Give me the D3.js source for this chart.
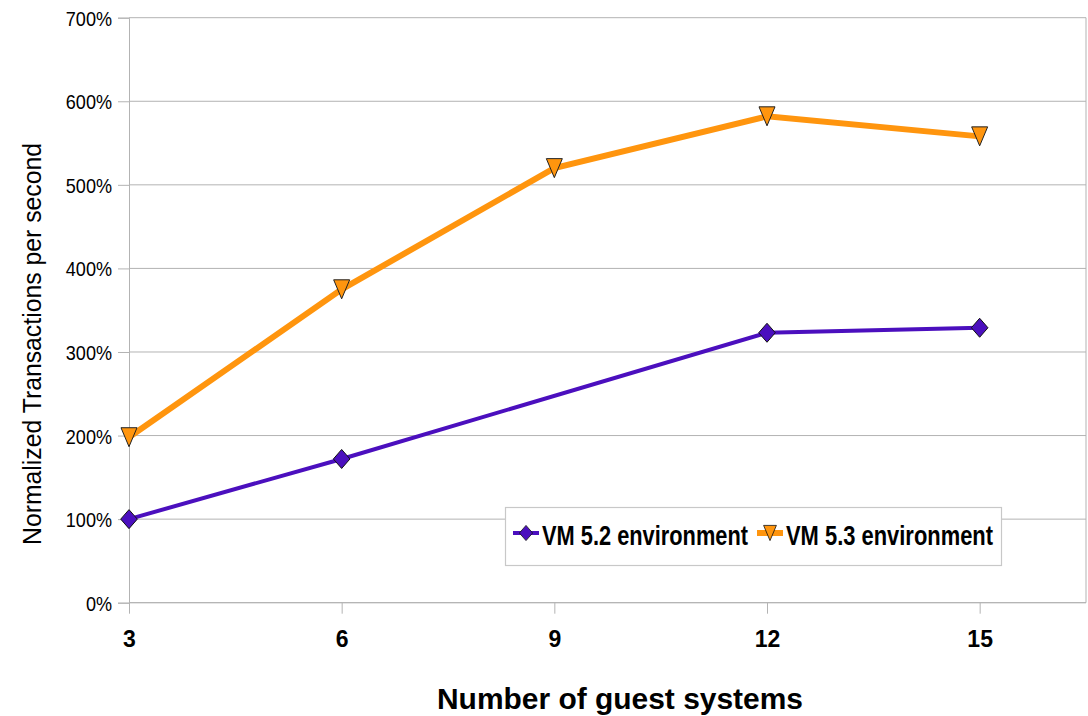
<!DOCTYPE html>
<html>
<head>
<meta charset="utf-8">
<script src="https://cdn.jsdelivr.net/npm/d3@7"></script>
<style>
  html, body { margin: 0; padding: 0; background: #fff; }
  svg { display: block; }
  text { font-family: "Liberation Sans", Arial, sans-serif; }
</style>
</head>
<body>
<svg id="chart" width="1088" height="716"></svg>
<script>
// Guest-system counts on the x axis
const guests = [3, 6, 9, 12, 15];
// Normalized transactions per second, in percent (null = not measured)
const vm52 = [100, 172, null, 323, 329];
const vm53 = [198, 375, 520, 582, 558];
const yTicks = [0, 100, 200, 300, 400, 500, 600, 700];
const seriesNames = ["VM 5.2 environment", "VM 5.3 environment"];

const svg = d3.select("#chart");
const margin = { left: 129, right: 1086, top: 17.7, bottom: 602.7 };

const x = d3.scaleLinear().domain([3, 16.5]).range([margin.left, margin.right]);
const y = d3.scaleLinear().domain([0, 700]).range([margin.bottom, margin.top]);

const gridColor = "#b3b3b3";

// Squeeze text horizontally to a condensed look
function condense(sel, factor) {
  sel.each(function () {
    const w = this.getComputedTextLength();
    d3.select(this)
      .attr("textLength", w * factor)
      .attr("lengthAdjust", "spacingAndGlyphs");
  });
}

// Horizontal gridlines
svg.append("g")
  .selectAll("line")
  .data(yTicks)
  .join("line")
  .attr("x1", margin.left).attr("x2", margin.right)
  .attr("y1", d => y(d)).attr("y2", d => y(d))
  .attr("stroke", gridColor).attr("stroke-width", 1);

// Right border of the plot area
svg.append("line")
  .attr("x1", margin.right).attr("x2", margin.right)
  .attr("y1", margin.top).attr("y2", margin.bottom)
  .attr("stroke", gridColor);

// Y axis
const yAxis = d3.axisLeft(y)
  .tickValues(yTicks)
  .tickSize(11)
  .tickPadding(6)
  .tickFormat(d => d + "%");
const gy = svg.append("g").attr("transform", `translate(${margin.left},0)`).call(yAxis);
gy.attr("font-family", null).attr("font-size", null);
gy.select(".domain").attr("stroke", gridColor);
gy.selectAll(".tick line").attr("stroke", gridColor);
gy.selectAll(".tick text")
  .attr("font-size", 21)
  .attr("fill", "#000")
  .attr("dy", "0.36em")
  .call(condense, 0.86);

// X axis
const xAxis = d3.axisBottom(x)
  .tickValues(guests)
  .tickSize(11)
  .tickPadding(0)
  .tickFormat(d3.format("d"));
const gx = svg.append("g").attr("transform", `translate(0,${margin.bottom})`).call(xAxis);
gx.attr("font-family", null).attr("font-size", null);
gx.select(".domain").attr("stroke", gridColor).attr("d", `M${margin.left},0H${margin.right}`);
gx.selectAll(".tick line").attr("stroke", gridColor);
gx.selectAll(".tick text")
  .attr("font-size", 23)
  .attr("font-weight", "bold")
  .attr("fill", "#000")
  .attr("y", 44.5)
  .attr("dy", null);

// Axis titles
svg.append("text")
  .attr("x", 437)
  .attr("y", 709)
  .attr("font-size", 30)
  .attr("font-weight", "bold")
  .attr("textLength", 366)
  .attr("lengthAdjust", "spacingAndGlyphs")
  .text("Number of guest systems");

svg.append("text")
  .attr("transform", "translate(41,344) rotate(-90)")
  .attr("text-anchor", "middle")
  .attr("font-size", 26)
  .attr("textLength", 402)
  .attr("lengthAdjust", "spacingAndGlyphs")
  .text("Normalized Transactions per second");

const purple = "#4b0fbe";
const orange = "#ff950e";

const line = d3.line()
  .x(d => x(d[0]))
  .y(d => y(d[1]));

function points(values) {
  return guests.map((g, i) => [g, values[i]]).filter(d => d[1] !== null);
}

// Series lines
svg.append("path")
  .datum(points(vm52))
  .attr("d", line)
  .attr("fill", "none")
  .attr("stroke", purple)
  .attr("stroke-width", 4);

svg.append("path")
  .datum(points(vm53))
  .attr("d", line)
  .attr("fill", "none")
  .attr("stroke", orange)
  .attr("stroke-width", 6);

// Marker shapes
const diamond = "M0,-9.5L8.3,0L0,9.5L-8.3,0Z";
const triangle = "M-8,-9.5L8,-9.5L0,9.5Z";

svg.append("g")
  .selectAll("path")
  .data(points(vm52))
  .join("path")
  .attr("transform", d => `translate(${x(d[0])},${y(d[1])})`)
  .attr("d", diamond)
  .attr("fill", purple)
  .attr("stroke", "#111")
  .attr("stroke-width", 1);

svg.append("g")
  .selectAll("path")
  .data(points(vm53))
  .join("path")
  .attr("transform", d => `translate(${x(d[0])},${y(d[1])})`)
  .attr("d", triangle)
  .attr("fill", orange)
  .attr("stroke", "#222")
  .attr("stroke-width", 1);

// Legend
const lg = svg.append("g");
lg.append("rect")
  .attr("x", 505.5).attr("y", 507.5)
  .attr("width", 496).attr("height", 58)
  .attr("fill", "#fff")
  .attr("stroke", "#c8c8c8")
  .attr("stroke-width", 1.2);

const legendItems = [
  { name: seriesNames[0], color: purple, shape: diamond, w: 4, x0: 513, tx: 542, tl: 206 },
  { name: seriesNames[1], color: orange, shape: triangle, w: 6, x0: 757, tx: 786, tl: 207 }
];
const ly = 533;
legendItems.forEach(it => {
  lg.append("line")
    .attr("x1", it.x0).attr("x2", it.x0 + 26)
    .attr("y1", ly).attr("y2", ly)
    .attr("stroke", it.color).attr("stroke-width", it.w);
  lg.append("path")
    .attr("transform", `translate(${it.x0 + 13},${ly}) scale(0.8)`)
    .attr("d", it.shape)
    .attr("fill", it.color)
    .attr("stroke", "#111");
  lg.append("text")
    .attr("x", it.tx)
    .attr("y", 545)
    .attr("font-size", 28)
    .attr("font-weight", "bold")
    .attr("textLength", it.tl)
    .attr("lengthAdjust", "spacingAndGlyphs")
    .text(it.name);
});
</script>
</body>
</html>
